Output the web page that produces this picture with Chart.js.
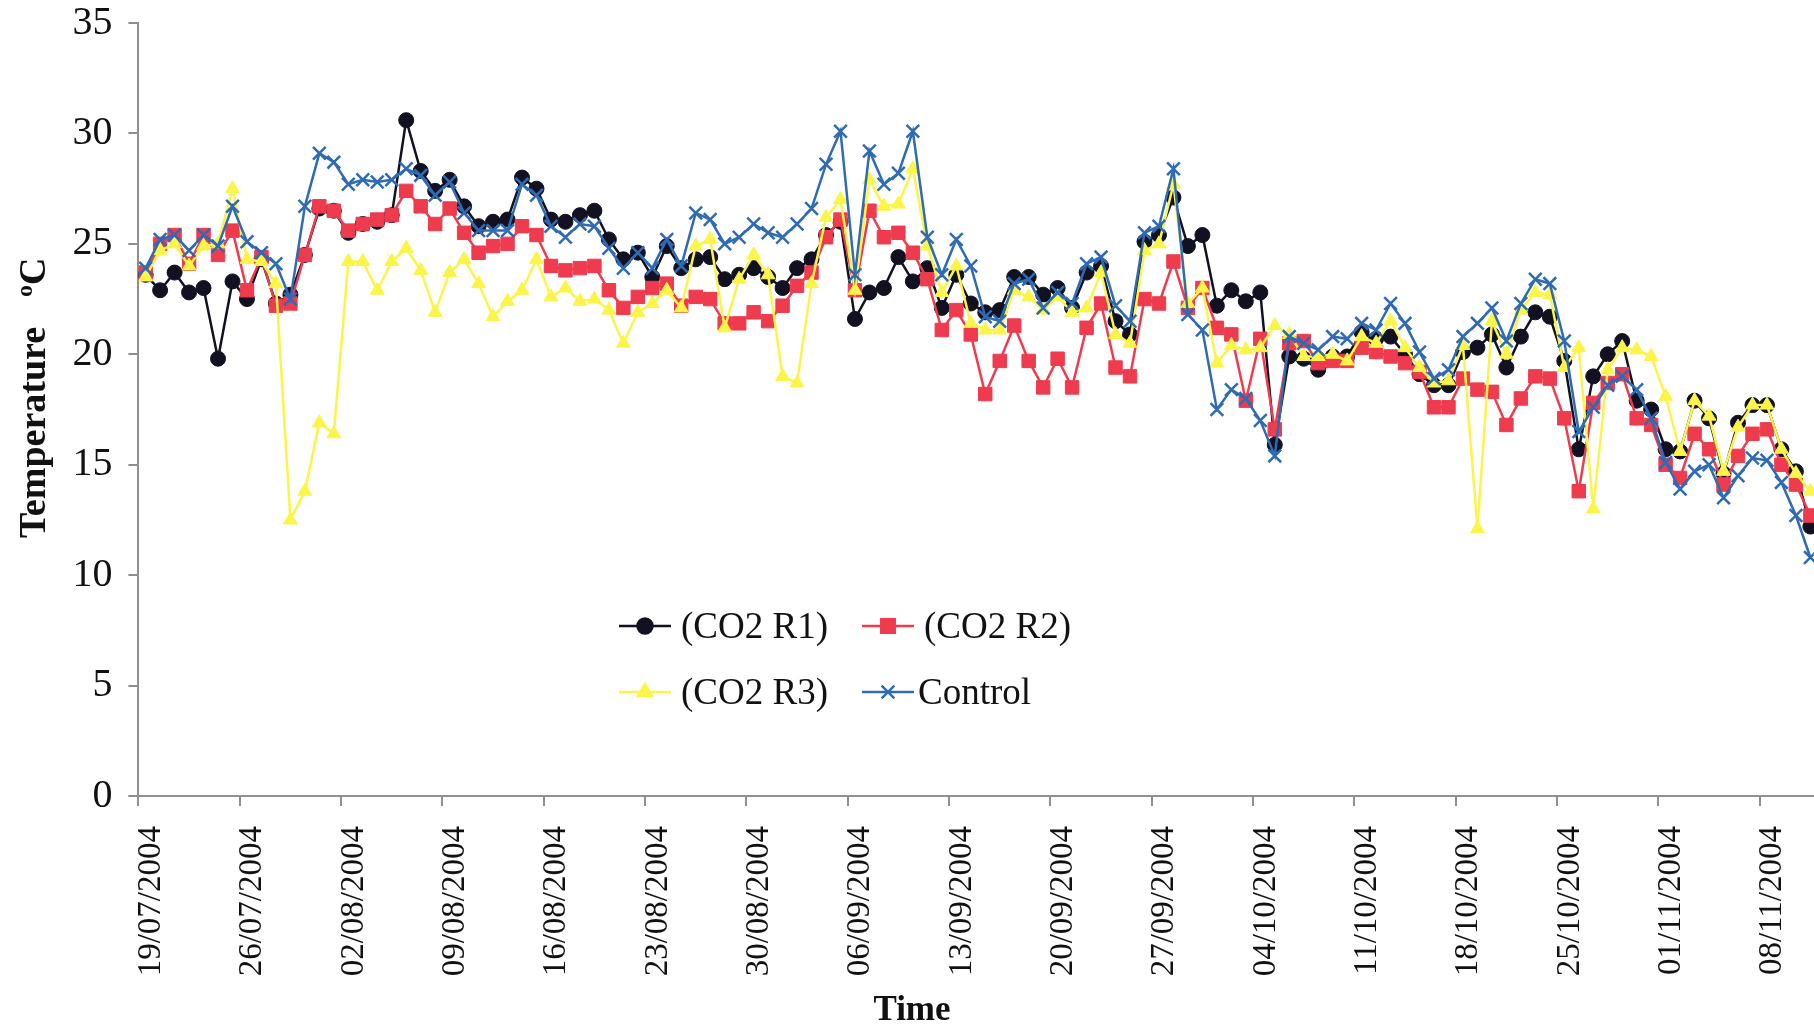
<!DOCTYPE html>
<html>
<head>
<meta charset="utf-8">
<script src="https://cdn.jsdelivr.net/npm/chart.js@4.4.1/dist/chart.umd.min.js"></script>
<style>
  html, body { margin: 0; padding: 0; background: #fff; }
  #wrap { width: 1814px; height: 1029px; position: relative; }
</style>
</head>
<body>
<div id="wrap"><canvas id="tempChart"></canvas></div>
<script>
// weekly tick labels, one every 7 days from the first reading
const tickLabels = ['19/07/2004', '26/07/2004', '02/08/2004', '09/08/2004', '16/08/2004',
  '23/08/2004', '30/08/2004', '06/09/2004', '13/09/2004', '20/09/2004', '27/09/2004',
  '04/10/2004', '11/10/2004', '18/10/2004', '25/10/2004', '01/11/2004', '08/11/2004'];

// daily mean temperatures (oC), one value per day starting 19/07/2004
const co2R1 = [
  23.6, 22.9, 23.7, 22.8, 23.0, 19.8, 23.3, 22.5, 24.3, 22.3, 22.7, 24.5, 26.6, 26.5, 25.5, 25.9, 26.0, 26.3, 30.6, 28.3,
  27.4, 27.9, 26.7, 25.8, 26.0, 26.1, 28.0, 27.5, 26.1, 26.0, 26.3, 26.5, 25.2, 24.3, 24.6, 23.5, 24.9, 23.9,
  24.3, 24.4, 23.4, 23.6, 23.9, 23.5, 23.0, 23.9, 24.3, 25.4, 26.0, 21.6, 22.8, 23.0, 24.4, 23.3, 23.9, 22.1, 23.6,
  22.3, 21.9, 22.0, 23.5, 23.5, 22.7, 23.0, 22.1, 23.7, 24.0, 21.5, 20.9, 25.1, 25.4, 27.1, 24.9, 25.4, 22.2, 22.9,
  22.4, 22.8, 15.9, 19.9, 19.8, 19.3, 19.9, 19.9, 21.0, 20.7, 20.8, 20.0, 19.1, 18.6, 18.6, 20.1, 20.3, 20.9,
  19.4, 20.8, 21.9, 21.7, 19.7, 15.7, 19.0, 20.0, 20.6, 17.9, 17.5, 15.7, 15.6, 17.9, 17.1, 14.6, 16.9, 17.7, 17.7, 15.7, 14.7, 12.2
];
const co2R2 = [
  23.7, 25.0, 25.4, 24.1, 25.4, 24.5, 25.6, 22.9, 24.4, 22.2, 22.3, 24.5, 26.7, 26.5, 25.6, 25.9, 26.1, 26.3, 27.4, 26.7,
  25.9, 26.6, 25.5, 24.6, 24.9, 25.0, 25.8, 25.4, 24.0, 23.8, 23.9, 24.0, 22.9, 22.1, 22.6, 23.0, 23.2, 22.2,
  22.6, 22.5, 21.4, 21.4, 21.9, 21.5, 22.2, 23.1, 23.7, 25.3, 26.1, 22.9, 26.5, 25.3, 25.5, 24.6, 23.4, 21.1, 22.0,
  20.9, 18.2, 19.7, 21.3, 19.7, 18.5, 19.8, 18.5, 21.2, 22.3, 19.4, 19.0, 22.5, 22.3, 24.2, 22.1, 23.0, 21.2, 20.9,
  17.9, 20.7, 16.6, 20.5, 20.6, 19.6, 19.7, 19.7, 20.3, 20.1, 19.9, 19.6, 19.2, 17.6, 17.6, 18.9, 18.4, 18.3,
  16.8, 18.0, 19.0, 18.9, 17.1, 13.8, 17.8, 18.7, 19.1, 17.1, 16.8, 15.0, 14.4, 16.4, 15.7, 14.1, 15.4, 16.4, 16.6, 15.0, 14.1, 12.7
];
const co2R3 = [
  23.5, 24.7, 25.0, 24.0, 24.9, 25.0, 27.5, 24.3, 24.2, 23.2, 12.5, 13.8, 16.9, 16.4, 24.2, 24.2, 22.9, 24.2, 24.8, 23.8,
  21.9, 23.7, 24.3, 23.2, 21.7, 22.4, 22.9, 24.3, 22.6, 23.0, 22.4, 22.5, 22.0, 20.5, 21.9, 22.3, 22.9, 22.1,
  24.9, 25.2, 21.2, 23.4, 24.5, 23.6, 19.0, 18.7, 23.2, 26.2, 27.0, 22.9, 27.9, 26.7, 26.8, 28.4, 24.9, 22.8, 24.0,
  21.4, 21.1, 21.1, 22.9, 22.6, 22.0, 22.6, 21.9, 22.1, 23.7, 20.9, 20.5, 24.7, 25.0, 27.7, 22.3, 23.0, 19.6, 20.4,
  20.2, 20.3, 21.3, 20.9, 19.9, 19.9, 20.0, 19.7, 20.8, 20.5, 21.5, 20.3, 19.4, 18.7, 18.8, 20.4, 12.1, 21.5,
  20.0, 22.0, 22.8, 22.7, 19.4, 20.3, 13.0, 19.3, 20.3, 20.2, 19.9, 18.1, 15.6, 17.9, 17.2, 14.7, 16.7, 17.7, 17.7, 15.7, 14.6, 13.8
];
const control = [
  23.9, 25.2, 25.4, 24.7, 25.4, 24.9, 26.7, 25.1, 24.6, 24.1, 22.5, 26.7, 29.1, 28.7, 27.7, 27.9, 27.8, 27.9, 28.4, 28.1,
  27.2, 27.8, 26.4, 25.6, 25.6, 25.6, 27.7, 27.2, 25.8, 25.3, 25.9, 25.8, 24.8, 23.9, 24.6, 23.9, 25.2, 24.0,
  26.4, 26.1, 25.0, 25.3, 25.9, 25.5, 25.3, 25.9, 26.6, 28.6, 30.1, 23.6, 29.2, 27.7, 28.2, 30.1, 25.3, 23.6, 25.2,
  24.0, 21.7, 21.5, 23.2, 23.4, 22.1, 22.8, 22.3, 24.1, 24.4, 22.2, 21.5, 25.5, 25.8, 28.4, 21.8, 21.1, 17.5, 18.4,
  18.0, 17.0, 15.4, 20.8, 20.5, 20.2, 20.8, 20.7, 21.4, 21.1, 22.3, 21.4, 20.1, 18.9, 19.3, 20.8, 21.4, 22.1,
  20.6, 22.3, 23.4, 23.2, 20.6, 16.5, 17.6, 18.6, 19.0, 18.4, 17.1, 15.1, 13.9, 14.7, 15.0, 13.5, 14.5, 15.3, 15.2, 14.2, 12.7, 10.8
];

const serif = '"Liberation Serif", "Times New Roman", serif';

// readings are plotted at mid-day, x is in days since 19/07/2004
function toPoints(values) {
  return values.map((v, i) => ({ x: i + 0.5, y: v }));
}

function series(label, values, color, style, radius, order) {
  return {
    label: label,
    data: toPoints(values),
    borderColor: color,
    backgroundColor: color,
    borderWidth: 2.5,
    pointStyle: style,
    pointRadius: radius,
    pointBorderWidth: style === 'crossRot' ? 2.5 : 1,
    pointBorderColor: color,
    pointBackgroundColor: color,
    tension: 0,
    order: order
  };
}

// legend and axis titles drawn by hand (the legend sits inside the plot,
// and the y title needs a superscript "o")
const overlay = {
  id: 'overlay',
  afterDraw(chart) {
    const ctx = chart.ctx;
    ctx.save();

    const slots = [
      { ds: 0, x: 619, y: 626, tx: 681 }, { ds: 1, x: 862, y: 626, tx: 924 },
      { ds: 2, x: 619, y: 692, tx: 681 }, { ds: 3, x: 862, y: 692, tx: 918 }
    ];
    slots.forEach(s => {
      const ds = chart.data.datasets[s.ds];
      ctx.strokeStyle = ds.borderColor;
      ctx.lineWidth = 2.5;
      ctx.beginPath();
      ctx.moveTo(s.x, s.y);
      ctx.lineTo(s.x + 52, s.y);
      ctx.stroke();
      ctx.fillStyle = ds.backgroundColor;
      Chart.helpers.drawPoint(ctx, {
        pointStyle: ds.pointStyle, radius: ds.pointRadius, borderWidth: ds.pointBorderWidth, rotation: 0
      }, s.x + 26, s.y);
      ctx.fillStyle = '#111';
      ctx.font = '37px ' + serif;
      ctx.textAlign = 'left';
      ctx.textBaseline = 'middle';
      ctx.fillText(ds.label, s.tx, s.y + 2);
    });

    // x title
    ctx.fillStyle = '#111';
    ctx.font = 'bold 35px ' + serif;
    ctx.textAlign = 'center';
    ctx.textBaseline = 'alphabetic';
    ctx.fillText('Time', 912, 1020);

    // y title, rotated
    ctx.translate(45, 538);
    ctx.rotate(-Math.PI / 2);
    ctx.textAlign = 'left';
    ctx.font = 'bold 38px ' + serif;
    ctx.fillText('Temperature', 0, 0);
    let pos = ctx.measureText('Temperature').width + 30;
    ctx.font = 'bold 24px ' + serif;
    ctx.fillText('o', pos, -13);
    pos += ctx.measureText('o').width;
    ctx.font = 'bold 38px ' + serif;
    ctx.fillText('C', pos, 0);

    ctx.restore();
  }
};

const axisGray = '#8f8f8f';

new Chart(document.getElementById('tempChart'), {
  type: 'line',
  data: {
    datasets: [
      series('(CO2 R1)', co2R1, '#111122', 'circle', 7.5, 4),
      series('(CO2 R2)', co2R2, '#ee3b4e', 'rect', 9.5, 3),
      series('(CO2 R3)', co2R3, '#fbf54a', 'triangle', 8, 2),
      series('Control', control, '#2f6bb3', 'crossRot', 9, 1)
    ]
  },
  options: {
    responsive: true,
    maintainAspectRatio: false,
    animation: false,
    layout: { autoPadding: false, padding: { top: 23, right: 0, bottom: 0, left: 0 } },
    plugins: {
      legend: { display: false },
      tooltip: { enabled: false }
    },
    scales: {
      x: {
        type: 'linear',
        min: 0,
        max: 115.75,
        border: { color: axisGray, width: 2 },
        grid: { drawOnChartArea: false, drawTicks: true, tickLength: 10, color: axisGray, lineWidth: 2 },
        ticks: {
          autoSkip: false,
          minRotation: 90,
          maxRotation: 90,
          padding: 20,
          labelOffset: 13,
          color: '#111',
          font: { family: serif, size: 33 },
          callback: (v, idx) => tickLabels[idx]
        },
        afterBuildTicks: scale => {
          scale.ticks = tickLabels.map((t, k) => ({ value: k * 7 }));
        },
        afterFit: scale => {
          scale.height = 233;
          scale.paddingLeft = 0;
          scale.paddingRight = 0;
        }
      },
      y: {
        min: 0,
        max: 35,
        border: { color: axisGray, width: 2 },
        grid: { drawOnChartArea: false, drawTicks: true, tickLength: 10, color: axisGray, lineWidth: 2 },
        ticks: {
          stepSize: 5,
          padding: 16,
          color: '#111',
          font: { family: serif, size: 40 }
        },
        afterFit: scale => {
          scale.width = 138.4;
          scale.paddingTop = 0;
          scale.paddingBottom = 0;
        }
      }
    }
  },
  plugins: [overlay]
});
</script>
</body>
</html>
